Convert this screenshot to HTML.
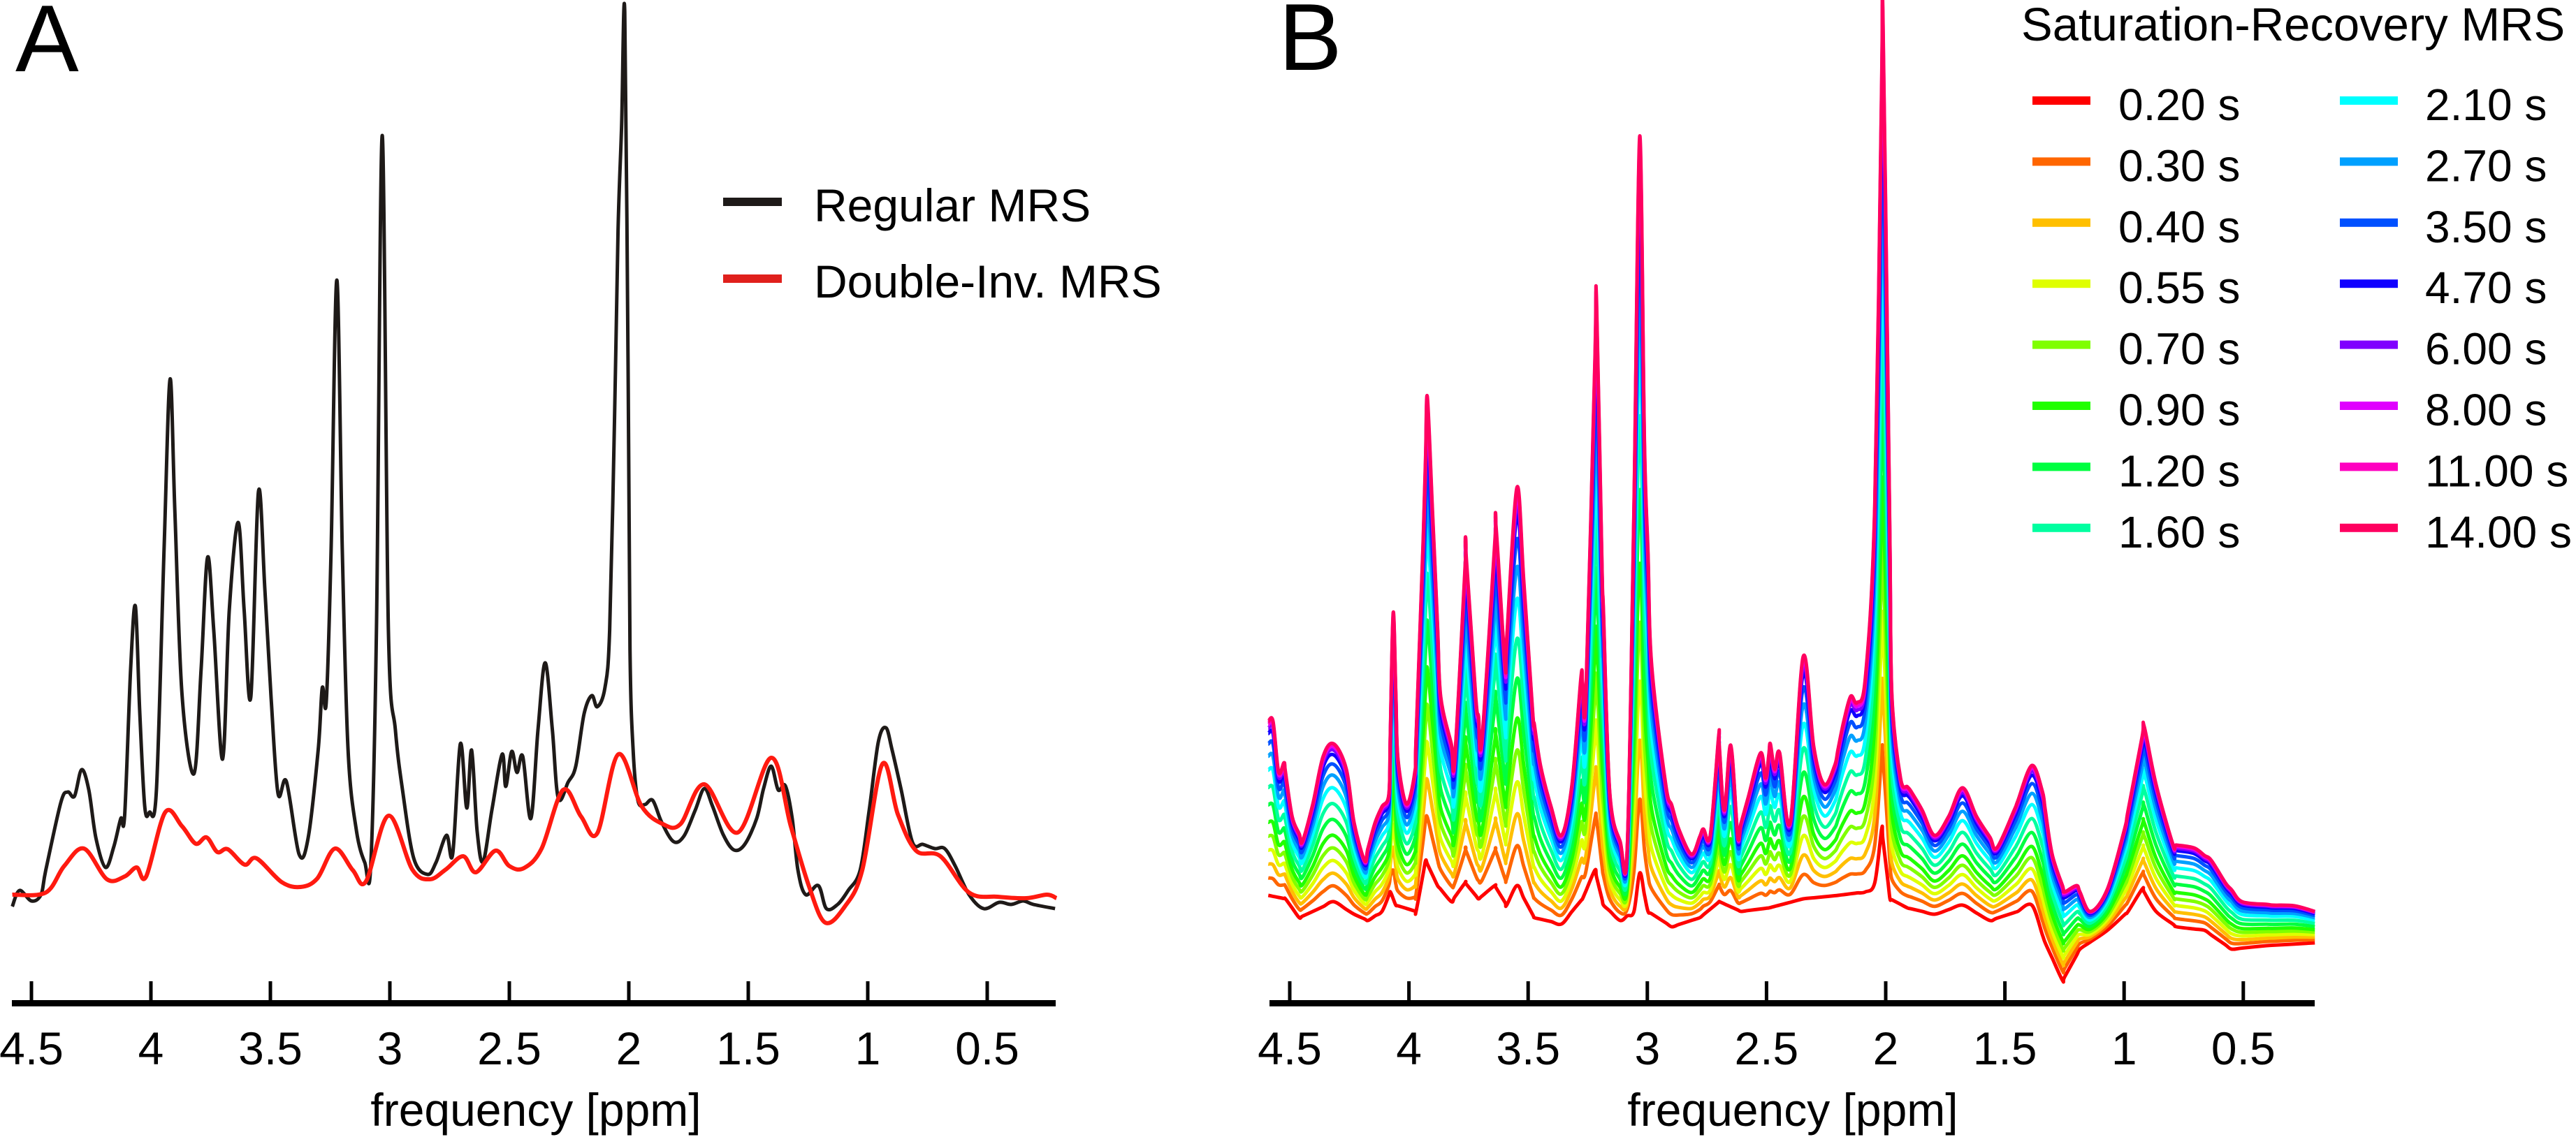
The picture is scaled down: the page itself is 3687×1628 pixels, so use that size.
<!DOCTYPE html>
<html><head><meta charset="utf-8">
<style>
html,body{margin:0;padding:0;background:#fff;}
svg{display:block;}
text{font-family:"Liberation Sans",Arial,sans-serif;fill:#000;}
</style></head>
<body>
<svg id="fig" width="3687" height="1628" viewBox="0 0 3687 1628" xmlns="http://www.w3.org/2000/svg">
  <text x="22" y="102" font-size="136">A</text>
  <text x="1830" y="100" font-size="136">B</text>
  <g id="plotA"></g>
  <g id="plotB"></g>
  <g id="axisA"></g>
  <g id="axisB"></g>
  <text x="767" y="1612" font-size="66" text-anchor="middle">frequency [ppm]</text>
  <text x="2566" y="1612" font-size="66" text-anchor="middle">frequency [ppm]</text>
  <g>
    <rect x="1035" y="283" width="84" height="12" fill="#1e1a18"/>
    <text x="1165" y="317" font-size="66">Regular MRS</text>
    <rect x="1035" y="393" width="84" height="12" fill="#e0201c"/>
    <text x="1165" y="426" font-size="66">Double-Inv. MRS</text>
  </g>
  <g id="legendB">
    <text x="2893" y="58" font-size="67">Saturation-Recovery MRS</text>
  </g>
</svg>
<script>
// ---- Panel A data (ppm, intensity a.u.) ----
const regPpm = [4.58,4.55,4.5,4.46,4.44,4.377,4.348,4.32,4.29,4.26,4.23,4.19,4.155,4.126,4.11,4.085,4.065,4.047,4.026,4.006,3.977,3.945,3.92,3.90,3.87,3.82,3.79,3.763,3.737,3.70,3.672,3.635,3.61,3.582,3.55,3.523,3.497,3.468,3.433,3.38,3.342,3.30,3.283,3.266,3.246,3.222,3.199,3.175,3.14,3.105,3.08,3.056,3.032,3.006,2.977,2.947,2.90,2.842,2.807,2.763,2.737,2.705,2.678,2.658,2.635,2.61,2.573,2.53,2.515,2.49,2.468,2.444,2.41,2.38,2.35,2.32,2.295,2.254,2.222,2.187,2.155,2.132,2.10,2.08,2.06,2.045,2.03,2.017,2.003,1.995,1.982,1.962,1.933,1.90,1.863,1.813,1.769,1.722,1.684,1.65,1.605,1.56,1.515,1.465,1.436,1.404,1.375,1.345,1.316,1.292,1.26,1.207,1.173,1.126,1.082,1.032,0.994,0.956,0.924,0.898,0.86,0.813,0.769,0.72,0.678,0.634,0.576,0.515,0.45,0.40,0.35,0.307,0.216];
const regVal = [32,55,40,49,84,181,196,190,228,199,130,88,118,158,162,371,462,313,176,167,199,543,787,600,336,222,371,532,428,243,457,582,457,332,626,486,331,194,211,107,130,256,345,325,543,929,543,256,141,95,90,428,1136,428,285,199,101,78,95,134,107,265,173,256,141,96,170,250,204,254,224,247,158,285,381,285,187,210,233,308,334,318,345,428,727,1000,1150,1313,800,400,256,184,178,184,153,125,133,170,201,176,135,113,121,158,201,233,199,205,158,84,49,62,29,35,55,84,170,267,288,256,199,124,121,115,115,90,49,29,38,35,40,35,29];
const dinvPpm = [4.58,4.44,4.363,4.28,4.184,4.11,4.06,4.02,3.94,3.87,3.813,3.767,3.722,3.678,3.608,3.558,3.453,3.374,3.304,3.23,3.155,3.10,3.006,2.906,2.833,2.766,2.693,2.64,2.558,2.50,2.439,2.365,2.275,2.20,2.132,2.044,1.947,1.857,1.784,1.684,1.544,1.404,1.322,1.246,1.178,1.096,1.023,0.939,0.874,0.798,0.696,0.576,0.456,0.336,0.25,0.21];
const dinvVal = [49,52,90,115,71,75,88,75,167,147,122,131,110,114,92,101,67,60,72,115,84,68,162,85,71,85,104,81,112,90,87,115,199,161,137,250,176,150,150,207,138,245,147,61,9,32,84,236,164,112,104,52,46,44,49,44];
const xTicks = [4.5,4,3.5,3,2.5,2,1.5,1,0.5];
const xTickLabels = ["4.5","4","3.5","3","2.5","2","1.5","1","0.5"];

// ---- Panel B data ----
const fullPpm = [4.59,4.57,4.547,4.524,4.49,4.447,4.403,4.36,4.316,4.263,4.23,4.186,4.142,4.113,4.084,4.066,4.046,4.01,3.975,3.94,3.923,3.902,3.867,3.808,3.761,3.72,3.694,3.635,3.597,3.547,3.518,3.48,3.448,3.404,3.36,3.316,3.278,3.258,3.213,3.19,3.158,3.114,3.084,3.056,3.032,3.012,2.982,2.923,2.868,2.815,2.765,2.736,2.701,2.677,2.65,2.621,2.577,2.525,2.504,2.484,2.466,2.445,2.401,2.346,2.302,2.258,2.214,2.176,2.147,2.12,2.085,2.046,2.012,1.991,1.974,1.938,1.894,1.847,1.795,1.736,1.678,1.619,1.534,1.461,1.387,1.343,1.302,1.25,1.2,1.141,1.07,0.998,0.916,0.866,0.795,0.707,0.634,0.575,0.505,0.373,0.285,0.2];
const fullVal = [297,297,225,238,161,125,179,247,265,229,152,98,152,175,193,453,243,179,225,560,762,605,333,243,540,333,270,578,379,632,496,306,234,175,134,207,361,333,900,515,197,125,116,605,1135,696,379,207,143,107,143,134,275,170,263,134,188,252,216,265,229,252,152,390,261,207,234,297,333,324,361,605,1316,786,333,216,197,170,134,161,202,161,116,170,234,197,107,53,62,25,57,143,290,207,121,116,98,66,39,34,33,25];
const lowPpm = [4.59,4.518,4.46,4.403,4.316,4.23,4.172,4.113,4.078,4.055,3.97,3.93,3.88,3.822,3.764,3.708,3.64,3.59,3.547,3.474,3.36,3.272,3.22,3.184,3.114,3.056,3.032,2.997,2.897,2.78,2.698,2.607,2.49,2.346,2.2,2.085,2.046,2.017,1.982,1.909,1.795,1.678,1.563,1.446,1.387,1.331,1.258,1.185,1.07,0.983,0.924,0.866,0.78,0.663,0.549,0.402,0.2];
const lowVal = [48,43,16,25,39,21,12,25,53,34,25,98,62,39,66,43,62,34,62,16,7,43,84,34,12,25,80,25,3,16,39,25,30,43,48,53,66,143,43,30,21,34,12,25,34,-20,-74,-29,-2,25,57,25,3,-2,-29,-24,-20];
const recTimes = ["0.20 s","0.30 s","0.40 s","0.55 s","0.70 s","0.90 s","1.20 s","1.60 s","2.10 s","2.70 s","3.50 s","4.70 s","6.00 s","8.00 s","11.00 s","14.00 s"];
const recFraction = [0,0.1,0.18,0.26,0.34,0.42,0.52,0.62,0.72,0.8,0.87,0.93,0.96,0.98,0.99,1.0];
const recColors = ["#ff0000","#ff6600","#ffbf00","#dfff00","#80ff00","#20ff00","#00ff40","#00ffa0","#00ffff","#00a0ff","#0050ff","#1000ff","#8000ff","#e000ff","#ff00c0","#ff0060"];

const NS = "http://www.w3.org/2000/svg";
function xA(p){ return 45 + (4.5 - p) * 342; }
function xB(p){ return 1846 + (4.5 - p) * 341.2; }
function yA(v){ return 1330 - v; }
function yB(v){ return 1330 - v; }
function mk(tag, attrs, parent){
  const e = document.createElementNS(NS, tag);
  for (const k in attrs) e.setAttribute(k, attrs[k]);
  parent.appendChild(e);
  return e;
}
function pathFrom(ps, vs, xf, yf){
  const P = ps.map((p, i) => [xf(p), yf(vs[i])]);
  let d = "M" + P[0][0].toFixed(1) + "," + P[0][1].toFixed(1);
  for (let i = 0; i < P.length - 1; i++) {
    const p0 = P[Math.max(0, i-1)], p1 = P[i], p2 = P[i+1], p3 = P[Math.min(P.length-1, i+2)];
    const t = 6;
    const c1x = p1[0] + (p2[0]-p0[0])/t, c1y = p1[1] + (p2[1]-p0[1])/t;
    const c2x = p2[0] - (p3[0]-p1[0])/t, c2y = p2[1] - (p3[1]-p1[1])/t;
    d += "C" + c1x.toFixed(1) + "," + c1y.toFixed(1) + " " + c2x.toFixed(1) + "," + c2y.toFixed(1) + " " + p2[0].toFixed(1) + "," + p2[1].toFixed(1);
  }
  return d;
}
function interp(ps, vs, p){
  if (p >= ps[0]) return vs[0];
  for (let i = 1; i < ps.length; i++) {
    if (p >= ps[i]) { const t = (ps[i-1] - p) / (ps[i-1] - ps[i]); return vs[i-1] + t * (vs[i] - vs[i-1]); }
  }
  return vs[vs.length - 1];
}
function drawAxis(g, xf, x0, x1){
  const ax = mk("rect", {x:x0, y:1432, width:x1-x0, height:9, fill:"#000"}, g);
  
  
  xTicks.forEach((t, i) => {
    const tk = mk("rect", {x:xf(t)-2.5, y:1405, width:5, height:30, fill:"#000"}, g);
    
    
    const lb = mk("text", {x:xf(t), y:1524, "font-size":66, "text-anchor":"middle"}, g);
    lb.textContent = xTickLabels[i];
    
    
  });
}
drawAxis(document.getElementById("axisA"), xA, 17, 1511);
drawAxis(document.getElementById("axisB"), xB, 1817, 3313);

const gA = document.getElementById("plotA");
const pReg = mk("path", {d:pathFrom(regPpm, regVal, xA, yA), fill:"none", stroke:"#1e1a18", "stroke-width":5, "stroke-linejoin":"round"}, gA);


const pDinv = mk("path", {d:pathFrom(dinvPpm, dinvVal, xA, yA), fill:"none", stroke:"#ff1a10", "stroke-width":6, "stroke-linejoin":"round"}, gA);



const gB = document.getElementById("plotB");
const grid = Array.from(new Set(fullPpm.concat(lowPpm))).sort((a, b) => b - a);
recFraction.forEach((f, i) => {
  const vals = grid.map(p => { const lo = interp(lowPpm, lowVal, p), hi = interp(fullPpm, fullVal, p); return lo + f * (hi - lo); });
  const pl = mk("path", {d:pathFrom(grid, vals, xB, yB), fill:"none", stroke:recColors[i], "stroke-width":5, "stroke-linejoin":"round"}, gB);
  
  
});

const lg = document.getElementById("legendB");
recTimes.forEach((t, i) => {
  const col = i < 8 ? 0 : 1, row = i % 8;
  const sx = col ? 3349 : 2909, tx = col ? 3471 : 3032, y = 144 + row * 87.4;
  const sw = mk("rect", {x:sx, y:y-6, width:83, height:12, fill:recColors[i]}, lg);
  
  
  const tt = mk("text", {x:tx, y:y+28, "font-size":64}, lg);
  tt.textContent = t;
  
  
});
</script>
</body></html>
